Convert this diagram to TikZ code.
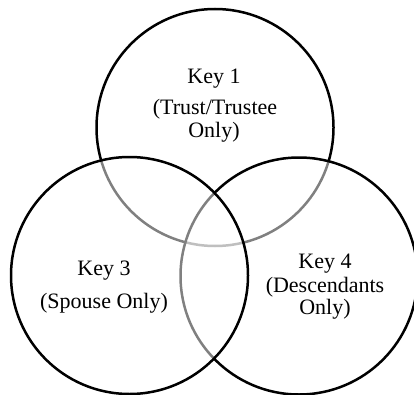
\documentclass[tikz,border=0pt]{standalone}
\usepackage{fontspec}
\setmainfont{Liberation Serif}
\begin{document}
\begin{tikzpicture}[x=1pt,y=1pt,
  ring/.style={circle, draw=black, line width=2.5pt, fill=white,
    fill opacity=0.5, draw opacity=1, minimum size=237pt, inner sep=0pt},
  lbl/.style={anchor=base, inner sep=0pt,
    font=\fontsize{22}{26}\selectfont}]
  \useasboundingbox (0,0) rectangle (414,394);
  % three overlapping sets; later rings shade the outlines beneath them
  \node[ring] (trust)  at (215,266.5) {};
  \node[ring] (desc)   at (299,118)   {};
  \node[ring] (spouse) at (129.5,118.5) {};
  % labels
  \node[lbl] (k1a) at (214,310) {Key 1};
  \node[lbl] (k1b) at (215,279) {(Trust/Trustee};
  \node[lbl] (k1c) at (214,256) {Only)};
  \node[lbl] (k3a) at (104,119) {Key 3};
  \node[lbl] (k3b) at (104,86)  {(Spouse Only)};
  \node[lbl] (k4a) at (325,126) {Key 4};
  \node[lbl] (k4b) at (325,102) {(Descendants};
  \node[lbl] (k4c) at (325,80)  {Only)};
\end{tikzpicture}
\end{document}
